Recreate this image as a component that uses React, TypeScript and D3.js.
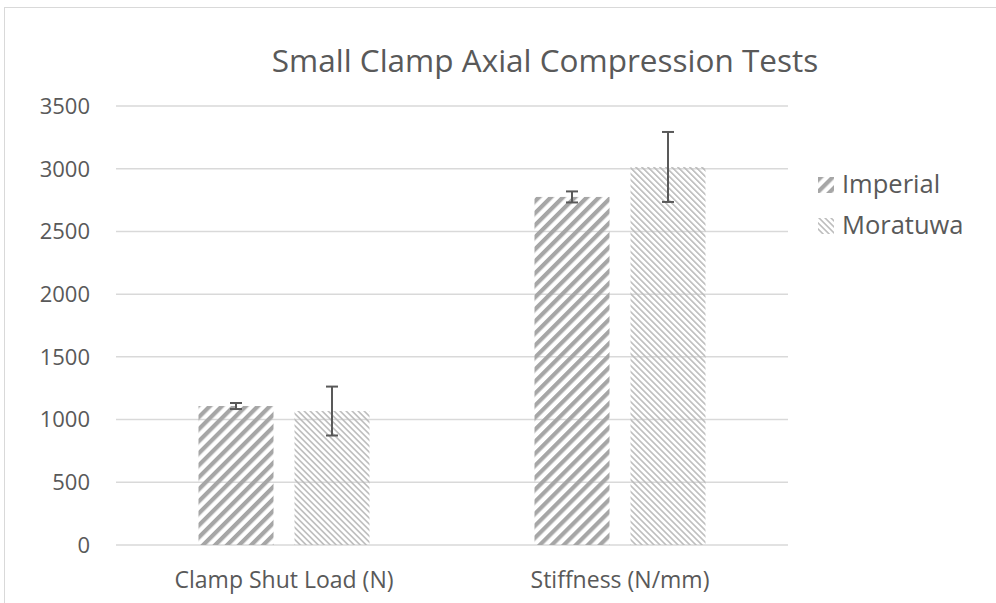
import React from "react";
import * as d3 from "d3";

const categories = ["Clamp Shut Load (N)", "Stiffness (N/mm)"];
const seriesNames = ["Imperial", "Moratuwa"];
const imperialValues = [1108, 2775];
const imperialErrors = [24, 44];
const moratuwaValues = [1068, 3014];
const moratuwaErrors = [195, 279];
const yTicks = [0, 500, 1000, 1500, 2000, 2500, 3000, 3500];
const title = "Small Clamp Axial Compression Tests";

const W = 996;
const H = 603;
const FONT = "'Open Sans', sans-serif";
const TEXT = "#595959";

export default function App() {
  const left = 116, right = 788, top = 106, bottom = 545;
  const x = d3.scaleBand<string>().domain(categories).range([left, right]);
  const y = d3.scaleLinear().domain([0, 3500]).range([bottom, top]);
  const barW = 75;
  const gap = 21;
  const series = [
    { name: seriesNames[0], values: imperialValues, errors: imperialErrors, fill: "url(#patImp)" },
    { name: seriesNames[1], values: moratuwaValues, errors: moratuwaErrors, fill: "url(#patMor)" },
  ];
  return (
    <svg width={W} height={H} style={{ position: "absolute", left: 0, top: 0, background: "#fff" }}>
      <defs>
        <pattern id="patImp" patternUnits="userSpaceOnUse" width={8.5} height={8.5} patternTransform="rotate(45)">
          <rect x={0} y={0} width={4.2} height={8.5} fill="#a6a6a6" />
        </pattern>
        <pattern id="patMor" patternUnits="userSpaceOnUse" width={4.24} height={4.24} patternTransform="rotate(-45)">
          <rect x={0} y={0} width={1.5} height={4.24} fill="#b8b8b8" />
        </pattern>
      </defs>
      <rect x={4.5} y={7.5} width={1000} height={620} fill="#fff" stroke="#d9d9d9" />
      <text x={545} y={72} textAnchor="middle" fontFamily={FONT} fontSize={31.5} fill={TEXT}>{title}</text>
      {yTicks.map((t) => (
        <g key={t}>
          <line x1={left} x2={right} y1={y(t)} y2={y(t)} stroke="#d9d9d9" strokeWidth={1.5} />
          <text x={90} y={y(t)} dy="0.36em" textAnchor="end" fontFamily={FONT} fontSize={22} fill={TEXT}>{t}</text>
        </g>
      ))}
      {categories.map((c, ci) => {
        const cx = (x(c) as number) + x.bandwidth() / 2;
        return (
          <g key={c}>
            <text x={cx} y={588} textAnchor="middle" fontFamily={FONT} fontSize={23} fill={TEXT}>{c}</text>
            {series.map((s, si) => {
              const bx = si === 0 ? cx - gap / 2 - barW : cx + gap / 2;
              const v = s.values[ci];
              const e = s.errors[ci];
              const mx = bx + barW / 2;
              return (
                <g key={s.name}>
                  <rect x={bx} y={y(v)} width={barW} height={y(0) - y(v)} fill={s.fill} />
                  <line x1={mx} x2={mx} y1={y(v + e)} y2={y(v - e)} stroke={TEXT} strokeWidth={2} />
                  <line x1={mx - 6} x2={mx + 6} y1={y(v + e)} y2={y(v + e)} stroke={TEXT} strokeWidth={2} />
                  <line x1={mx - 6} x2={mx + 6} y1={y(v - e)} y2={y(v - e)} stroke={TEXT} strokeWidth={2} />
                </g>
              );
            })}
          </g>
        );
      })}
      {series.map((s, si) => (
        <g key={s.name} transform={`translate(818, ${177 + si * 41})`}>
          <rect x={0} y={0} width={16} height={16} fill={s.fill} />
          <text x={24} y={16} fontFamily={FONT} fontSize={25.5} fill={TEXT}>{s.name}</text>
        </g>
      ))}
    </svg>
  );
}
